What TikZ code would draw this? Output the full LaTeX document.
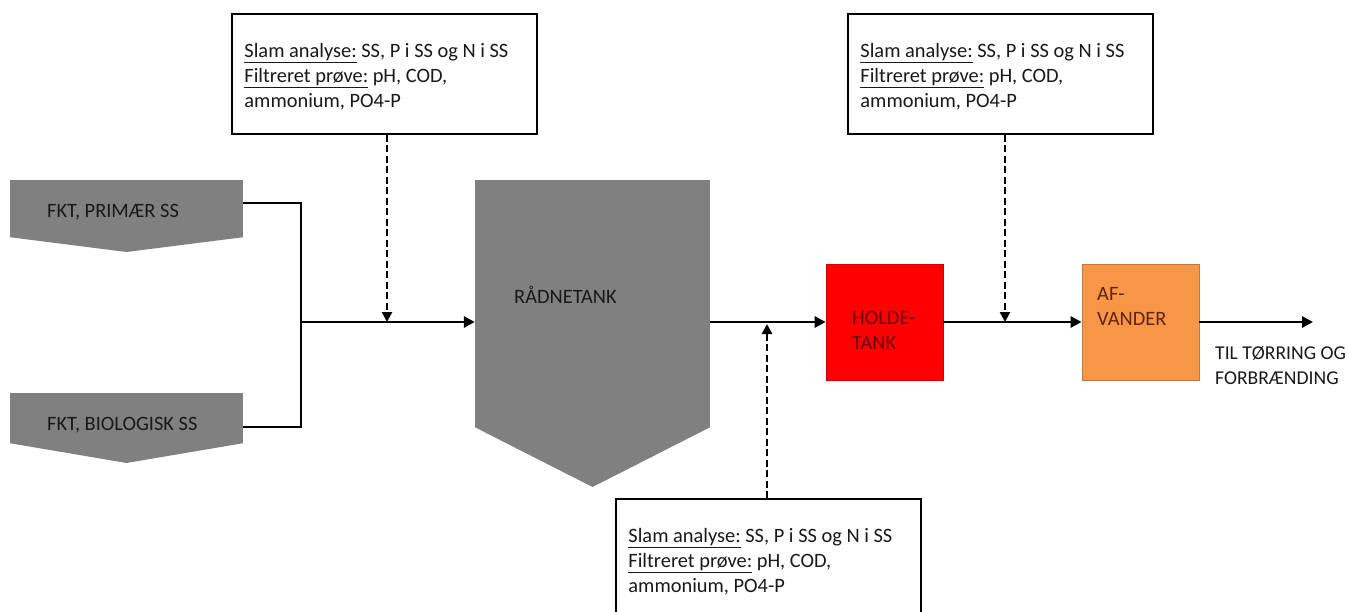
\documentclass[tikz,border=0pt]{standalone}
\usepackage{fontspec}
\setmainfont{Carlito}
\usetikzlibrary{arrows.meta,calc}
\definecolor{tankgray}{RGB}{128,128,128}
\definecolor{labelink}{RGB}{25,25,25}
\definecolor{holdred}{RGB}{255,0,0}
\definecolor{holdtext}{RGB}{105,0,0}
\definecolor{dewater}{RGB}{247,150,70}
\definecolor{dewateredge}{RGB}{190,120,70}
\definecolor{dewatertext}{RGB}{95,35,15}
\newcommand{\sampletext}{\underline{Slam analyse:} SS, P i SS og N i SS\\\underline{Filtreret prøve:} pH, COD,\\ammonium, PO4-P}
\begin{document}
\begin{tikzpicture}[x=1pt,y=-1pt,
  every node/.style={font=\fontsize{20.4}{25}\selectfont, inner sep=0pt},
  sludge/.style={fill=tankgray, draw=none},
  infobox/.style={draw=black, line width=1.5pt, fill=white,
    minimum width=305pt, minimum height=120pt},
  infotext/.style={anchor=north west, align=left, text=labelink},
  label/.style={anchor=west, align=left, text=labelink},
  flow/.style={line width=2.9pt},
  flowarrow/.style={flow, -{Triangle[length=11pt,width=11pt]}},
  probe/.style={line width=2.9pt, dash pattern=on 7pt off 3.5pt,
    -{Triangle[length=10pt,width=10pt]}}
]
\useasboundingbox (0,0) rectangle (1349,612);

% feed sludge sources
\node[sludge, minimum width=233pt, minimum height=57pt] (prim) at (126.5,208.5) {};
\fill[tankgray] (prim.south west) -- (prim.south east) -- (126.5,252) -- cycle;
\node[label] (primtxt) at (47,212) {FKT, PRIMÆR SS};

\node[sludge, minimum width=233pt, minimum height=50pt] (bio) at (126.5,418) {};
\fill[tankgray] (bio.south west) -- (bio.south east) -- (126.5,463) -- cycle;
\node[label] (biotxt) at (47,425) {FKT, BIOLOGISK SS};

% digester
\node[sludge, minimum width=235pt, minimum height=247pt] (rad) at (592.5,303.5) {};
\fill[tankgray] (rad.south west) -- (rad.south east) -- (592.5,487) -- cycle;
\node[label] (radtxt) at (514,295) {RÅDNETANK};

% holding tank and dewatering
\node[fill=holdred, draw=holdred!80!black, line width=0.6pt,
  minimum width=117pt, minimum height=116pt] (hold) at (884.5,322) {};
\node[label, text=holdtext] (holdtxt) at (852,330.5) {HOLDE-\\TANK};

\node[fill=dewater, draw=dewateredge, line width=0.8pt,
  minimum width=117pt, minimum height=116pt] (afv) at (1140.5,322) {};
\node[label, text=dewatertext] (afvtxt) at (1097,306) {AF-\\VANDER};

\node[label, font=\fontsize{19.6}{25}\selectfont] (outtxt) at (1215,365.5) {TIL TØRRING OG\\FORBRÆNDING};

% sampling boxes
\node[infobox] (ibox1) at (384.5,74) {};
\node[infotext] (ibox1txt) at ([xshift=13pt,yshift=-30pt]ibox1.north west) {\sampletext};
\node[infobox] (ibox2) at (1000.5,74) {};
\node[infotext] (ibox2txt) at ([xshift=13pt,yshift=-30pt]ibox2.north west) {\sampletext};
\node[infobox] (ibox3) at (768.5,559) {};
\node[infotext] (ibox3txt) at ([xshift=13pt,yshift=-30pt]ibox3.north west) {\sampletext};

% flow lines
\coordinate (jn) at (301,322);
\coordinate (s1) at (387,322);
\coordinate (s2) at (767,322);
\coordinate (s3) at (1005,322);
\coordinate (out) at (1313,322);

\draw[flow] ([yshift=5.5pt]prim.east) -| (jn) |- ([yshift=-9pt]bio.east);
\draw[flowarrow] (jn) -- (rad.west |- jn);
\draw[flowarrow] (rad.east |- jn) -- (hold.west);
\draw[flowarrow] (hold.east) -- (afv.west);
\draw[flowarrow] (afv.east) -- (out);

% sampling points
\draw[probe] (ibox1.south -| s1) -- (s1);
\draw[probe] (ibox2.south -| s3) -- (s3);
\draw[probe] (ibox3.north -| s2) -- ([yshift=-2pt]s2);
\end{tikzpicture}
\end{document}
